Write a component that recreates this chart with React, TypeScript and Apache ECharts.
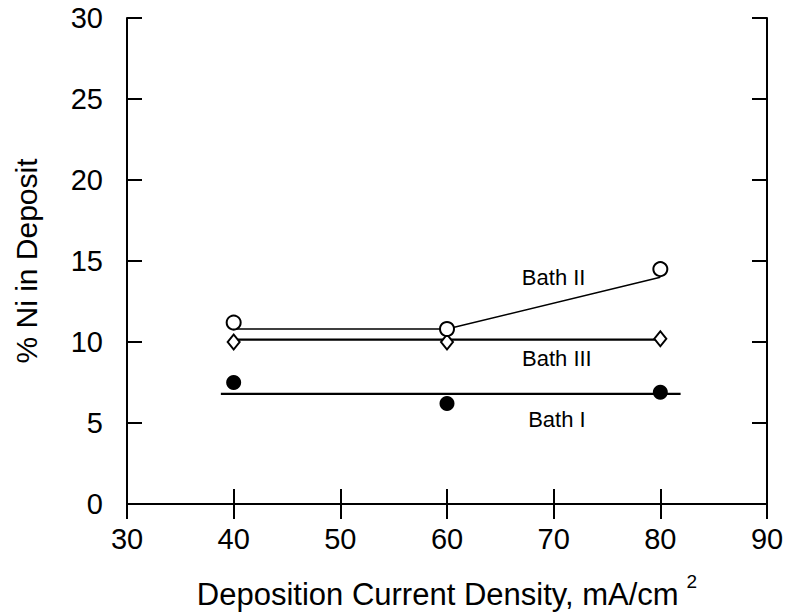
import React, { useEffect, useRef } from "react";
import * as echarts from "echarts";

// Current density categories (mA/cm^2)
const densities = [40, 60, 80];
// Measured % Ni in deposit
const bathIIValues = [11.2, 10.8, 14.5];
const bathIIIValues = [10.0, 10.0, 10.2];
const bathIValues = [7.5, 6.2, 6.9];
// Fitted lines drawn through the data
const bathIIFitX = [40, 60, 80];
const bathIIFitY = [10.8, 10.8, 14.0];
const bathIIIFitX = [40, 80];
const bathIIIFitY = [10.15, 10.15];
const bathIFitX = [38.8, 81.9];
const bathIFitY = [6.8, 6.8];
// Series annotations
const labelNames = ["Bath II", "Bath III", "Bath I"];
const labelX = [70.0, 70.3, 70.3];
const labelY = [14.0, 9.0, 5.2];
// Axis ticks
const xTicks = [30, 40, 50, 60, 70, 80, 90];
const yTicks = [0, 5, 10, 15, 20, 25, 30];

const FONT = "'Liberation Sans', Arial, Helvetica, sans-serif";

const zip = (xs: number[], ys: number[]) => xs.map((x, i) => [x, ys[i]]);

export default function App() {
  const ref = useRef<HTMLDivElement>(null);
  useEffect(() => {
    if (!ref.current) return;
    const chart = echarts.init(ref.current, undefined, { renderer: "svg" });
    const axisLine = { show: true, lineStyle: { color: "#000", width: 2 } };
    const tick = { show: true, inside: true, length: 15, lineStyle: { color: "#000", width: 2 } };
    chart.setOption({
      animation: false,
      backgroundColor: "#fff",
      grid: { left: 127, right: 27, top: 18, bottom: 110, containLabel: false },
      xAxis: [
        {
          type: "value",
          min: xTicks[0],
          max: xTicks[xTicks.length - 1],
          interval: 10,
          position: "bottom",
          axisLine,
          axisTick: tick,
          splitLine: { show: false },
          axisLabel: { fontFamily: FONT, fontSize: 29, color: "#000", margin: 20 },
          name: "{a|Deposition Current Density, mA/cm}{s|2}",
          nameLocation: "middle",
          nameGap: 68,
          nameTextStyle: {
            rich: {
              a: { fontFamily: FONT, fontSize: 31, color: "#000", lineHeight: 38, verticalAlign: "bottom" },
              s: { fontFamily: FONT, fontSize: 19, color: "#000", lineHeight: 38, verticalAlign: "top", padding: [0, 0, 0, 8] },
            },
          },
        },
        {
          type: "value",
          min: xTicks[0],
          max: xTicks[xTicks.length - 1],
          interval: 10,
          position: "top",
          axisLine,
          axisTick: tick,
          axisLabel: { show: false },
          splitLine: { show: false },
        },
      ],
      yAxis: [
        {
          type: "value",
          min: yTicks[0],
          max: yTicks[yTicks.length - 1],
          interval: 5,
          position: "left",
          axisLine,
          axisTick: tick,
          splitLine: { show: false },
          axisLabel: { fontFamily: FONT, fontSize: 29, color: "#000", margin: 24 },
          name: "% Ni in Deposit",
          nameLocation: "middle",
          nameGap: 86,
          nameTextStyle: { fontFamily: FONT, fontSize: 30, color: "#000" },
        },
        {
          type: "value",
          min: yTicks[0],
          max: yTicks[yTicks.length - 1],
          interval: 5,
          position: "right",
          axisLine,
          axisTick: tick,
          axisLabel: { show: false },
          splitLine: { show: false },
        },
      ],
      series: [
        {
          type: "line",
          data: zip(bathIIFitX, bathIIFitY),
          showSymbol: false,
          lineStyle: { color: "#000", width: 1.6 },
          z: 2,
        },
        {
          type: "line",
          data: zip(bathIIIFitX, bathIIIFitY),
          showSymbol: false,
          lineStyle: { color: "#000", width: 2.2 },
          z: 2,
        },
        {
          type: "line",
          data: zip(bathIFitX, bathIFitY),
          showSymbol: false,
          lineStyle: { color: "#000", width: 2.2 },
          z: 2,
        },
        {
          type: "scatter",
          data: zip(densities, bathIIIValues),
          symbol: "diamond",
          symbolSize: [12, 15],
          itemStyle: { color: "#fff", borderColor: "#000", borderWidth: 2, opacity: 1 },
          z: 3,
        },
        {
          type: "scatter",
          data: zip(densities, bathIIValues),
          symbol: "circle",
          symbolSize: 14,
          itemStyle: { color: "#fff", borderColor: "#000", borderWidth: 2, opacity: 1 },
          z: 4,
        },
        {
          type: "scatter",
          data: zip(densities, bathIValues),
          symbol: "circle",
          symbolSize: 15,
          itemStyle: { color: "#000", opacity: 1 },
          z: 4,
        },
        {
          type: "scatter",
          data: labelNames.map((n, i) => ({ name: n, value: [labelX[i], labelY[i]] })),
          symbolSize: 1,
          itemStyle: { color: "rgba(0,0,0,0)", opacity: 1 },
          label: {
            show: true,
            position: "inside",
            formatter: (p: any) => p.name,
            fontFamily: FONT,
            fontSize: 22,
            color: "#000",
            opacity: 1,
          },
          z: 5,
        },
      ],
    });
    return () => chart.dispose();
  }, []);
  return <div ref={ref} style={{ position: "fixed", left: 0, top: 0, width: 794, height: 615 }} />;
}
